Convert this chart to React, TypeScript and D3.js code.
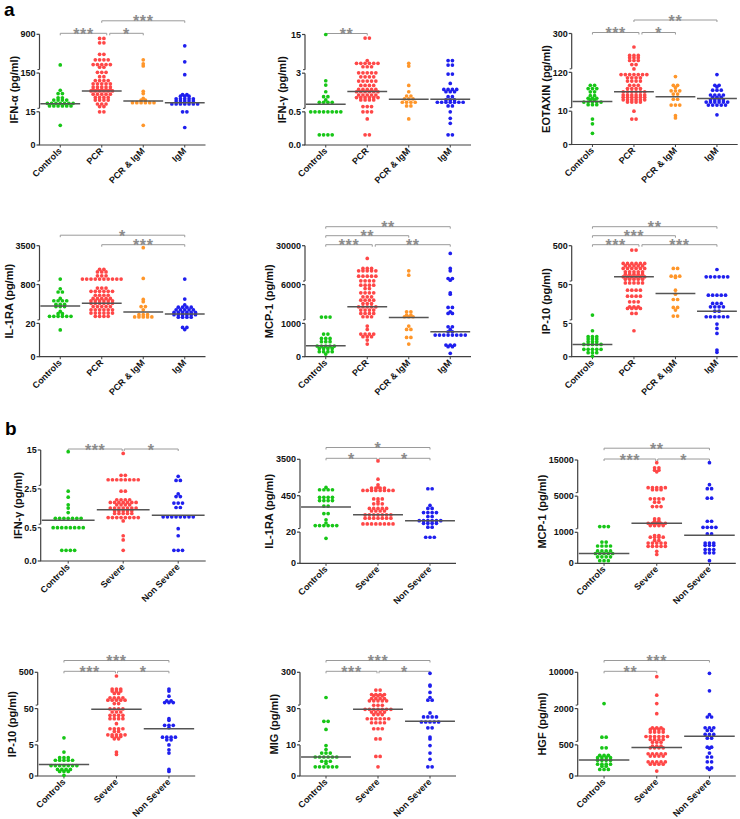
import React from "react";
import * as d3 from "d3";

const FONT = "'Liberation Sans', Arial, Helvetica, sans-serif";

const groupsA = ["Controls", "PCR", "PCR & IgM", "IgM"];
const groupsB = ["Controls", "Severe", "Non Severe"];
const colorsA = ["#17c617", "#ff4747", "#ff962a", "#1f1fee"];
const colorsB = ["#17c617", "#ff4747", "#1f1fee"];

// ---------- a1 IFN-alpha ----------
const ifnaTicks = [0, 15, 150, 900];
const ifnaTickLabels = ["0", "15", "150", "900"];
const ifnaControls = [308, 90, 78.5, 78.5, 63.8, 63.8, 55.8, 55.8, 55.8, 55.8, 44.5, 44.5, 44.5, 44.5, 44.5, 44.5, 44.5, 35.4, 35.4, 35.4, 35.4, 35.4, 35.4, 8.9];
const ifnaPCR = [821, 821, 735.5, 735.5, 511.8, 511.8, 406.6, 406.6, 406.6, 406.6, 314.5, 314.5, 314.5, 314.5, 314.5, 261.8, 261.8, 163, 163, 163, 137.5, 137.5, 123.9, 123.9, 123.9, 123.9, 112.6, 112.6, 112.6, 112.6, 112.6, 101.2, 101.2, 101.2, 101.2, 101.2, 92.1, 92.1, 92.1, 92.1, 92.1, 87.6, 87.6, 87.6, 87.6, 87.6, 87.6, 76.3, 76.3, 76.3, 76.3, 76.3, 64.9, 64.9, 64.9, 64.9, 55.8, 55.8, 55.8, 55.8, 42.2, 42.2, 42.2, 33.2, 33.2, 15, 15];
const ifnaPcrIgm = [406.6, 327.6, 288, 86.5, 78.5, 61.5, 55.8, 55.8, 46.8, 46.8, 46.8, 46.8, 46.8, 46.8, 8.9];
const ifnaIgm = [676, 367, 144.3, 75.1, 75.1, 69.5, 69.5, 69.5, 60.4, 60.4, 60.4, 60.4, 60.4, 52.4, 52.4, 52.4, 52.4, 52.4, 42.2, 42.2, 42.2, 42.2, 42.2, 42.2, 42.2, 15, 15, 7.9];
const ifnaMedians = [43.4, 87.6, 52.4, 46.8];

// ---------- a2 IFN-gamma ----------
const ifngATicks = [0, 0.5, 3, 15];
const ifngATickLabels = ["0.0", "0.5", "3", "15"];
const ifngAControls = [15, 2.51, 2.23, 1.8, 1.48, 1.48, 1.27, 1.12, 1.12, 1.12, 1.12, 0.5, 0.5, 0.5, 0.5, 0.5, 0.5, 0.5, 0.5, 0.153, 0.153, 0.153, 0.153];
const ifngAPCR = [13.9, 13.9, 6.9, 6.05, 6.05, 6.05, 6.05, 6.05, 6.05, 5.0, 5.0, 5.0, 3.1, 3.1, 3.1, 3.1, 3.1, 2.765, 2.765, 2.765, 2.765, 2.49, 2.49, 2.49, 2.49, 2.49, 2.21, 2.21, 2.21, 2.21, 1.95, 1.95, 1.95, 1.95, 1.95, 1.8, 1.8, 1.8, 1.8, 1.8, 1.8, 1.59, 1.59, 1.59, 1.59, 1.59, 1.42, 1.42, 1.42, 1.42, 1.42, 1.42, 1.27, 1.27, 1.27, 1.27, 0.84, 0.84, 0.84, 0.5, 0.5, 0.5, 0.393, 0.153, 0.153];
const ifngAPcrIgm = [6.05, 5.21, 2.21, 1.8, 1.526, 1.526, 1.333, 1.333, 1.333, 1.12, 1.12, 1.12, 1.12, 0.885, 0.885, 0.393];
const ifngAIgm = [6.9, 6.9, 5.5, 5.5, 2.94, 2.94, 2.34, 1.95, 1.95, 1.95, 1.95, 1.8, 1.8, 1.8, 1.48, 1.48, 1.27, 1.27, 1.27, 1.12, 1.12, 1.12, 1.12, 1.12, 1.12, 1.12, 0.885, 0.885, 0.5, 0.403, 0.327, 0.153, 0.153];
const ifngAMedians = [0.99, 1.82, 1.31, 1.31];

// ---------- a3 EOTAXIN ----------
const eotTicks = [0, 10, 120, 300];
const eotTickLabels = ["0", "10", "120", "300"];
const eotControls = [83.3, 83.3, 74.2, 74.2, 74.2, 65, 65, 54, 54, 46.7, 46.7, 46.7, 42.1, 42.1, 35.7, 35.7, 35.7, 35.7, 35.7, 28.3, 28.3, 28.3, 7.65, 6.22, 3.37];
const eotPCR = [237.4, 198.3, 198.3, 198.3, 187.3, 187.3, 187.3, 174.8, 174.8, 174.8, 156, 156, 135.7, 113.6, 113.6, 113.6, 113.6, 113.6, 113.6, 113.6, 104.4, 104.4, 104.4, 104.4, 95.3, 95.3, 95.3, 95.3, 83.3, 83.3, 83.3, 74.2, 74.2, 74.2, 74.2, 65, 65, 65, 65, 65, 65, 55.8, 55.8, 55.8, 55.8, 55.8, 55.8, 49.4, 49.4, 49.4, 49.4, 49.4, 49.4, 42.1, 42.1, 42.1, 42.1, 42.1, 42.1, 35.7, 35.7, 35.7, 35.7, 10, 7.65, 7.65];
const eotPcrIgm = [108, 83.3, 83.3, 76.9, 67.75, 67.75, 67.75, 58.6, 58.6, 43.9, 43.9, 27.4, 27.4, 27.4, 8.67, 7.96];
const eotIgm = [113.6, 83.3, 83.3, 78.75, 69.6, 69.6, 69.6, 55.8, 55.8, 55.8, 55.8, 49.4, 49.4, 49.4, 42.1, 42.1, 42.1, 42.1, 35.7, 35.7, 35.7, 35.7, 35.7, 35.7, 27.4, 27.4, 27.4, 27.4, 27.4, 8.9];
const eotMedians = [37.5, 65, 51.25, 45.75];

// ---------- a4 IL-1RA ----------
const il1raATicks = [0, 20, 800, 3500];
const il1raATickLabels = ["0", "20", "800", "3500"];
const il1raAControls = [1182.5, 715.5, 650.5, 650.5, 520.5, 475, 475, 475, 475, 403.5, 403.5, 403.5, 358, 358, 358, 260.5, 215, 215, 163, 163, 163, 163, 163, 163, 16.1];
const il1raAPCR = [1857.5, 1857.5, 1677.5, 1677.5, 1677.5, 1407.5, 1407.5, 1407.5, 1182.5, 1182.5, 1182.5, 1182.5, 1182.5, 1182.5, 1182.5, 1182.5, 1182.5, 1182.5, 728.5, 728.5, 728.5, 663.5, 663.5, 663.5, 663.5, 663.5, 663.5, 585.5, 585.5, 585.5, 585.5, 520.5, 520.5, 520.5, 520.5, 520.5, 475, 475, 475, 475, 475, 475, 423, 423, 423, 423, 423, 423, 358, 358, 358, 358, 358, 293, 293, 293, 293, 293, 293, 228, 228, 228, 228, 228, 228, 163, 163, 163, 163];
const il1raAPcrIgm = [3365, 1227.5, 501, 455.5, 358, 358, 293, 195.5, 195.5, 195.5, 150, 150, 150, 150, 150];
const il1raAIgm = [1182.5, 507.5, 390.5, 345, 345, 345, 345, 293, 293, 293, 293, 293, 241, 241, 241, 241, 241, 241, 195.5, 195.5, 195.5, 195.5, 195.5, 195.5, 143.5, 143.5, 143.5, 143.5, 17.6, 17.6, 16.3];
const il1raAMedians = [371, 423, 247.5, 208.5];

// ---------- a5 MCP-1 ----------
const mcpATicks = [0, 1000, 6000, 30000];
const mcpATickLabels = ["0", "1000", "6000", "30000"];
const mcpAControls = [1812, 1812, 1812, 680, 680, 550, 550, 550, 450, 450, 450, 320, 320, 320, 320, 320, 250, 250, 250, 250, 150, 150, 150, 150, 80];
const mcpAPCR = [22138, 15931, 15931, 15931, 14483, 14483, 14483, 14483, 14483, 11172, 11172, 11172, 11172, 11172, 8276, 8276, 8276, 8276, 5915, 5915, 5915, 5915, 5487, 5487, 4932, 4932, 4932, 4932, 4419, 4419, 4419, 3991, 3991, 3991, 3991, 3564, 3564, 3564, 3137, 3137, 3137, 3137, 3137, 2709, 2709, 2709, 2709, 2282, 2282, 2282, 2282, 1855, 1855, 1855, 920, 820, 680, 680, 680, 680, 600, 600, 600, 500, 380];
const mcpAPcrIgm = [14483, 11793, 2496, 2496, 2068, 2068, 1855, 1855, 1855, 920, 820, 820, 580, 580, 380];
const mcpAIgm = [25242, 15931, 14483, 9724, 9724, 8690, 4932, 4761, 3051, 3051, 2496, 2282, 2282, 900, 900, 820, 750, 750, 650, 650, 650, 650, 650, 650, 650, 650, 350, 350, 350, 300, 300, 100];
const mcpAMedians = [330, 3137, 1769, 750];

// ---------- a6 IP-10 ----------
const ipATicks = [0, 5, 50, 500];
const ipATickLabels = ["0", "5", "50", "500"];
const ipAControls = [14.6, 3.9, 3.0, 3.0, 3.0, 2.65, 2.65, 2.65, 2.25, 2.25, 2.25, 1.85, 1.85, 1.85, 1.85, 1.85, 1.1, 1.1, 1.1, 1.1, 1.1, 0.6, 0.6, 0.6, 0.1];
const ipAPCR = [449.5, 449.5, 294.4, 294.4, 294.4, 294.4, 294.4, 294.4, 267.2, 267.2, 267.2, 267.2, 267.2, 236.2, 236.2, 236.2, 236.2, 236.2, 236.2, 197.4, 197.4, 197.4, 197.4, 197.4, 170, 170, 170, 170, 170, 139.2, 139.2, 139.2, 139.2, 139.2, 139.2, 112, 112, 112, 112, 112, 69.4, 69.4, 69.4, 69.4, 69.4, 43.5, 43.5, 43.5, 43.5, 36.5, 36.5, 36.5, 36.5, 30, 30, 30, 24.2, 24.2, 24.2, 22.3, 22.3, 22.3, 22.3, 16.5, 16.5, 3.9];
const ipAPcrIgm = [236.2, 236.2, 147, 147, 147, 131.5, 43.5, 38.8, 32.7, 32.7, 23.5, 23.5, 20.4, 13.5, 13.5];
const ipAIgm = [224.6, 139.2, 139.2, 139.2, 139.2, 139.2, 139.2, 37.7, 37.7, 37.7, 37.7, 37.7, 28.1, 28.1, 28.1, 24.2, 24.2, 24.2, 24.2, 19.2, 19.2, 12.7, 12.7, 12.7, 12.7, 12.7, 12.7, 4.9, 4.25, 3.5, 1.0, 0.65];
const ipAMedians = [1.85, 139.2, 39.6, 19.2];

// ---------- b1 IFN-gamma ----------
const ifngBTicks = [0, 0.5, 2.5, 15];
const ifngBTickLabels = ["0.0", "0.5", "2.5", "15"];
const ifngBControls = [14.46, 2.38, 2.07, 1.68, 1.51, 1.28, 0.987, 0.987, 0.987, 0.987, 0.987, 0.987, 0.987, 0.5, 0.5, 0.5, 0.5, 0.5, 0.5, 0.5, 0.5, 0.16, 0.16, 0.16, 0.16];
const ifngBSevere = [13.9, 6.85, 6.85, 5.43, 5.43, 5.43, 5.43, 5.43, 5.43, 5.43, 5.43, 2.38, 2.38, 1.94, 1.94, 1.94, 1.94, 1.8, 1.8, 1.8, 1.8, 1.8, 1.8, 1.8, 1.68, 1.68, 1.68, 1.68, 1.51, 1.51, 1.51, 1.51, 1.51, 1.51, 1.51, 1.37, 1.37, 1.37, 1.37, 1.37, 1.23, 1.23, 1.23, 1.23, 1.23, 1.02, 1.02, 1.02, 1.02, 1.02, 1.02, 1.02, 1.02, 0.848, 0.379, 0.316, 0.16];
const ifngBNonSevere = [6.52, 5.2, 5.2, 2.24, 2.1, 2.1, 1.77, 1.77, 1.77, 1.54, 1.54, 1.06, 1.06, 1.06, 1.06, 1.06, 1.06, 1.06, 1.06, 0.485, 0.379, 0.16, 0.16, 0.16];
const ifngBMedians = [0.883, 1.42, 1.14];

// ---------- b2 IL-1RA ----------
const il1raBTicks = [0, 20, 450, 3500];
const il1raBTickLabels = ["0", "20", "450", "3500"];
const il1raBControls = [1143, 949, 949, 949, 949, 430.8, 430.8, 430.8, 430.8, 392.4, 392.4, 392.4, 392.4, 327, 327, 238.8, 238.8, 165.9, 127.5, 96.8, 96.8, 96.8, 96.8, 96.8, 96.8, 16];
const il1raBSevere = [3361, 1836, 1365, 1171, 1088, 1088, 1088, 1088, 893.6, 893.6, 893.6, 893.6, 893.6, 893.6, 893.6, 893.6, 411.6, 411.6, 411.6, 380.9, 354, 354, 354, 300, 300, 300, 300, 300, 269.5, 269.5, 269.5, 269.5, 223.5, 223.5, 223.5, 223.5, 223.5, 223.5, 223.5, 185, 185, 185, 185, 185, 185, 185, 116, 116, 116, 116, 116, 116, 116, 116];
const il1raBNonSevere = [1032, 1032, 334.8, 300.2, 300.2, 250.3, 250.3, 250.3, 250.3, 204.3, 204.3, 154.4, 154.4, 154.4, 154.4, 154.4, 154.4, 123.7, 123.7, 123.7, 123.7, 77.6, 77.6, 16.7, 16.7, 16.7];
const il1raBMedians = [315.6, 223.5, 154.4];

// ---------- b3 MCP-1 ----------
const mcpBTicks = [0, 1000, 5000, 15000];
const mcpBTickLabels = ["0", "1000", "5000", "15000"];
const mcpBControls = [1630, 1630, 1630, 684, 684, 558, 558, 558, 558, 400, 400, 400, 400, 316, 316, 316, 316, 316, 210.5, 210.5, 210.5, 210.5, 84, 84, 84];
const mcpBSevere = [14252, 12850, 12850, 12196, 12196, 11729, 7336, 7336, 7336, 7336, 7336, 6776, 6776, 6776, 4704, 4704, 4704, 4704, 4333, 4333, 3852, 3852, 3852, 2481, 2481, 2222, 2222, 2000, 2000, 2000, 2000, 2000, 1741, 1741, 1741, 1741, 895, 895, 842, 842, 842, 842, 737, 737, 653, 653, 653, 653, 653, 547, 547, 547, 547, 547, 389, 284];
const mcpBNonSevere = [14252, 8178, 7056, 7056, 4778, 4778, 2222, 2222, 1556, 1556, 1556, 1556, 947, 947, 653, 653, 653, 579, 579, 579, 442, 442, 442, 337, 337, 337, 84];
const mcpBMedians = [316, 2000, 905];

// ---------- b4 IP-10 ----------
const ipBTicks = [0, 5, 50, 500];
const ipBTickLabels = ["0", "5", "50", "500"];
const ipBControls = [13.75, 3.84, 2.95, 2.95, 2.95, 2.53, 2.53, 2.53, 2.53, 2.53, 1.68, 1.68, 1.68, 1.68, 1.68, 1.68, 1.68, 1.05, 1.05, 1.05, 1.05, 0.74, 0.74, 0.74, 0.105];
const ipBSevere = [454, 291.7, 291.7, 291.7, 266.7, 266.7, 266.7, 237.5, 237.5, 183, 183, 183, 183, 154, 154, 154, 154, 154, 112.5, 112.5, 49.58, 49.58, 49.58, 49.58, 45.8, 45.8, 45.8, 41.7, 41.7, 41.7, 41.7, 37.5, 37.5, 37.5, 37.5, 31.25, 25, 25, 25, 25, 21.7, 21.7, 17.5, 17.5, 17.5, 17.5, 17.5, 15.4, 15.4, 15.4, 12.5, 12.5, 3.84, 3.47];
const ipBNonSevere = [291.7, 266.7, 204, 145.8, 145.8, 125, 125, 125, 37.5, 35.4, 29.2, 29.2, 29.2, 26.25, 14.6, 14.6, 14.6, 14.6, 11.25, 11.25, 5, 4.21, 3.68, 1.05, 0.74];
const ipBMedians = [1.84, 49.2, 25];

// ---------- b5 MIG ----------
const migTicks = [0, 10, 30, 300];
const migTickLabels = ["0", "10", "30", "300"];
const migControls = [112.5, 22.96, 22.96, 18.5, 9.79, 8.5, 7.37, 7.37, 7.37, 6.1, 6.1, 6.1, 6.1, 6.1, 6.1, 4.74, 4.74, 4.74, 4, 2.95, 2.95, 2.95, 2.95, 2.95, 2.95];
const migSevere = [167.5, 167.5, 135, 135, 135, 135, 125, 125, 125, 105, 105, 105, 105, 87.5, 87.5, 87.5, 87.5, 87.5, 55, 55, 55, 29.6, 29.6, 29.6, 29.6, 29.6, 29.6, 29.6, 28.1, 28.1, 28.1, 28.1, 26.7, 26.7, 26.7, 24.4, 24.4, 24.4, 24.4, 24.4, 24.4, 22.2, 22.2, 22.2, 22.2, 18.9, 18.9, 18.9, 13.3, 13.3, 6.3, 6.3, 2.95];
const migNonSevere = [292.5, 205, 197.5, 150, 112.5, 92.5, 92.5, 27.6, 25.4, 25.4, 25.4, 25.4, 22.6, 22.6, 22.6, 22.6, 22.6, 19.4, 19.4, 14.3, 13.3, 9.79, 7.37, 5.37, 2.95, 2.95];
const migMedians = [6.1, 29.6, 22.96];

// ---------- b6 HGF ----------
const hgfTicks = [0, 500, 2000, 10000];
const hgfTickLabels = ["0", "500", "2000", "10000"];
const hgfControls = [3111, 819, 819, 452.6, 452.6, 331.6, 331.6, 331.6, 294.7, 294.7, 294.7, 294.7, 252.6, 252.6, 252.6, 252.6, 189.5, 189.5, 189.5, 189.5, 157.9, 157.9, 105.3, 105.3, 105.3];
const hgfSevere = [9037, 4963, 3111, 1792, 1208, 1208, 1208, 1139, 1139, 1139, 1139, 1028, 1028, 1028, 1028, 847, 847, 847, 847, 847, 847, 722, 722, 722, 722, 611, 611, 611, 479, 479, 479, 452.6, 452.6, 452.6, 452.6, 357.9, 357.9, 357.9, 357.9, 357.9, 321, 321, 321, 321, 226, 226, 226, 226, 226, 189.5, 189.5, 189.5, 189.5, 79];
const hgfNonSevere = [9778, 5926, 1750, 1653, 1653, 1208, 1208, 1208, 1097, 1097, 930.6, 930.6, 930.6, 777.8, 777.8, 463, 463, 447, 368.4, 305, 305, 226, 226, 131.6, 131.6, 105.3];
const hgfMedians = [258, 457.9, 861];

type Bracket = [number, number, string, number];

const panels = [
  { title: "IFN-\u03b1 (pg/ml)", ticks: ifnaTicks, tickLabels: ifnaTickLabels, groups: groupsA, colors: colorsA, values: [ifnaControls, ifnaPCR, ifnaPcrIgm, ifnaIgm], medians: ifnaMedians, brackets: [[0, 1, "***", 0], [1, 2, "*", 0], [1, 3, "***", 1]] as Bracket[] },
  { title: "IFN-\u03b3 (pg/ml)", ticks: ifngATicks, tickLabels: ifngATickLabels, groups: groupsA, colors: colorsA, values: [ifngAControls, ifngAPCR, ifngAPcrIgm, ifngAIgm], medians: ifngAMedians, brackets: [[0, 1, "**", 0]] as Bracket[] },
  { title: "EOTAXIN (pg/ml)", ticks: eotTicks, tickLabels: eotTickLabels, groups: groupsA, colors: colorsA, values: [eotControls, eotPCR, eotPcrIgm, eotIgm], medians: eotMedians, brackets: [[0, 1, "***", 0], [1, 2, "*", 0], [1, 3, "**", 1]] as Bracket[] },
  { title: "IL-1RA (pg/ml)", ticks: il1raATicks, tickLabels: il1raATickLabels, groups: groupsA, colors: colorsA, values: [il1raAControls, il1raAPCR, il1raAPcrIgm, il1raAIgm], medians: il1raAMedians, brackets: [[1, 3, "***", 0], [0, 3, "*", 1]] as Bracket[] },
  { title: "MCP-1 (pg/ml)", ticks: mcpATicks, tickLabels: mcpATickLabels, groups: groupsA, colors: colorsA, values: [mcpAControls, mcpAPCR, mcpAPcrIgm, mcpAIgm], medians: mcpAMedians, brackets: [[0, 1, "***", 0], [1, 3, "**", 0], [0, 2, "**", 1], [0, 3, "**", 2]] as Bracket[] },
  { title: "IP-10 (pg/ml)", ticks: ipATicks, tickLabels: ipATickLabels, groups: groupsA, colors: colorsA, values: [ipAControls, ipAPCR, ipAPcrIgm, ipAIgm], medians: ipAMedians, brackets: [[0, 1, "***", 0], [1, 3, "***", 0], [0, 2, "***", 1], [0, 3, "**", 2]] as Bracket[] },
  { title: "IFN-\u03b3 (pg/ml)", ticks: ifngBTicks, tickLabels: ifngBTickLabels, groups: groupsB, colors: colorsB, values: [ifngBControls, ifngBSevere, ifngBNonSevere], medians: ifngBMedians, brackets: [[0, 1, "***", 0], [1, 2, "*", 0]] as Bracket[] },
  { title: "IL-1RA (pg/ml)", ticks: il1raBTicks, tickLabels: il1raBTickLabels, groups: groupsB, colors: colorsB, values: [il1raBControls, il1raBSevere, il1raBNonSevere], medians: il1raBMedians, brackets: [[0, 1, "*", 0], [1, 2, "*", 0], [0, 2, "*", 1]] as Bracket[] },
  { title: "MCP-1 (pg/ml)", ticks: mcpBTicks, tickLabels: mcpBTickLabels, groups: groupsB, colors: colorsB, values: [mcpBControls, mcpBSevere, mcpBNonSevere], medians: mcpBMedians, brackets: [[0, 1, "***", 0], [1, 2, "*", 0], [0, 2, "**", 1]] as Bracket[] },
  { title: "IP-10 (pg/ml)", ticks: ipBTicks, tickLabels: ipBTickLabels, groups: groupsB, colors: colorsB, values: [ipBControls, ipBSevere, ipBNonSevere], medians: ipBMedians, brackets: [[0, 1, "***", 0], [1, 2, "*", 0], [0, 2, "***", 1]] as Bracket[] },
  { title: "MIG (pg/ml)", ticks: migTicks, tickLabels: migTickLabels, groups: groupsB, colors: colorsB, values: [migControls, migSevere, migNonSevere], medians: migMedians, brackets: [[0, 1, "***", 0], [1, 2, "*", 0], [0, 2, "***", 1]] as Bracket[] },
  { title: "HGF (pg/ml)", ticks: hgfTicks, tickLabels: hgfTickLabels, groups: groupsB, colors: colorsB, values: [hgfControls, hgfSevere, hgfNonSevere], medians: hgfMedians, brackets: [[0, 1, "**", 0], [0, 2, "***", 1]] as Bracket[] },
];

// layout (pixel geometry of each panel)
const layouts = [
  { x0: 39.5, top: 34.3, bottom: 145, step: 41.5, gap: 12.5, shL: 5, shR: 8 },
  { x0: 305, top: 34.5, bottom: 145, step: 41.5, gap: 12.5, shL: 5, shR: 8 },
  { x0: 571.7, top: 33.5, bottom: 144.5, step: 41.5, gap: 12.5, shL: 5, shR: 8 },
  { x0: 39.5, top: 245.7, bottom: 356.7, step: 41.5, gap: 9.5, shL: 5, shR: 8 },
  { x0: 305, top: 245.7, bottom: 356.7, step: 41.5, gap: 9, shL: 5, shR: 8 },
  { x0: 571.7, top: 245.7, bottom: 356.7, step: 41.5, gap: 9, shL: 5, shR: 8 },
  { x0: 40.7, top: 450, bottom: 561, step: 55, gap: 10.8, shL: -1, shR: 1 },
  { x0: 300, top: 459.3, bottom: 563.3, step: 52, gap: 10.8, shL: -1, shR: 1 },
  { x0: 577.7, top: 460, bottom: 563.3, step: 52.7, gap: 10.8, shL: -1, shR: 1 },
  { x0: 37.7, top: 672.3, bottom: 776, step: 52.5, gap: 10.8, shL: -1, shR: 1 },
  { x0: 300, top: 672.3, bottom: 776, step: 52, gap: 10.8, shL: -1, shR: 1 },
  { x0: 577.7, top: 672.3, bottom: 776, step: 52.7, gap: 10.8, shL: -1, shR: 1 },
];

const AXIS = "#404040";
const SIG = "#9a9a9a";
const STAR = "#8c8c8c";
const MED = "#555555";
const DOT_R = 1.85;
const DOT_SP = 4.3;

function labelWidth(s: string) {
  let w = 0;
  for (const c of s) w += c === "." ? 2.5 : 5.0;
  return w;
}

function Panel({ p, l }: { p: (typeof panels)[number]; l: (typeof layouts)[number] }) {
  const h = l.bottom - l.top;
  const n = p.groups.length;
  const y = d3
    .scaleLinear()
    .domain(p.ticks)
    .range([l.bottom, l.bottom - 0.3 * h, l.bottom - 0.65 * h, l.top]);
  const x = d3
    .scalePoint<string>()
    .domain(p.groups)
    .range([l.x0 + l.step / 2, l.x0 + l.step * (n - 0.5)]);
  const xEnd = l.x0 + l.step * n;
  const brk = 3.5;

  const dots: { cx: number; cy: number; c: string }[] = [];
  p.values.forEach((vals, gi) => {
    const xc = x(p.groups[gi]) as number;
    const byVal = d3.group(vals, (v) => v);
    byVal.forEach((arr, v) => {
      arr.forEach((_, k) => {
        dots.push({ cx: xc + (k - (arr.length - 1) / 2) * DOT_SP, cy: y(v), c: p.colors[gi] });
      });
    });
  });

  const maxW = Math.max(...p.tickLabels.map(labelWidth));
  const titleX = l.x0 - maxW - 10.5;
  const midY = (l.top + l.bottom) / 2;

  const brs = p.brackets.map(([a, b, s, lev]) => {
    const leftShared = p.brackets.some((o) => o[1] === a && o[3] === lev);
    const rightShared = p.brackets.some((o) => o[0] === b && o[3] === lev);
    const x1 = (x(p.groups[a]) as number) + (leftShared ? l.shR : 0);
    const x2 = (x(p.groups[b]) as number) + (rightShared ? l.shL : 0);
    const yy = l.top - 1 - lev * l.gap;
    return { x1, x2, yy, s };
  });

  return (
    <g>
      {brs.map((b, i) => (
        <g key={"b" + i}>
          <path d={`M${b.x1},${b.yy + 2}V${b.yy}H${b.x2}V${b.yy + 2}`} fill="none" stroke={SIG} strokeWidth={1} />
          <text x={(b.x1 + b.x2) / 2} y={b.yy + 6.5} textAnchor="middle" fontSize={16} fontWeight="bold" fill={STAR} fontFamily={FONT} letterSpacing={0.6}>
            {b.s}
          </text>
        </g>
      ))}
      {[0, 1, 2].map((k) => (
        <line key={"s" + k} x1={l.x0} x2={l.x0} y1={y(p.ticks[k]) - (k > 0 ? brk : 0)} y2={y(p.ticks[k + 1])} stroke={AXIS} strokeWidth={1.2} />
      ))}
      {p.ticks.map((t, k) => (
        <g key={"t" + k}>
          <line x1={l.x0 - 3} x2={l.x0} y1={y(t)} y2={y(t)} stroke={AXIS} strokeWidth={1.2} />
          {k > 0 && k < 3 && <line x1={l.x0 - 2} x2={l.x0} y1={y(t) - brk} y2={y(t) - brk} stroke={AXIS} strokeWidth={1} />}
          <text x={l.x0 - 4} y={y(t)} dy="0.35em" textAnchor="end" fontSize={9} fontWeight="bold" fontFamily={FONT} fill="#111">
            {p.tickLabels[k]}
          </text>
        </g>
      ))}
      <line x1={l.x0 - 0.6} x2={xEnd} y1={l.bottom} y2={l.bottom} stroke={AXIS} strokeWidth={1.2} />
      {p.groups.map((g) => (
        <g key={g}>
          <line x1={x(g)} x2={x(g)} y1={l.bottom} y2={l.bottom + 2.5} stroke={AXIS} strokeWidth={1} />
          <text transform={`translate(${(x(g) as number) + 2},${l.bottom + 6.5}) rotate(-45)`} textAnchor="end" fontSize={9} fontWeight="bold" fontFamily={FONT} fill="#111">
            {g}
          </text>
        </g>
      ))}
      <text transform={`translate(${titleX},${midY}) rotate(-90)`} dy="0.35em" textAnchor="middle" fontSize={11} fontWeight="bold" fontFamily={FONT} fill="#111">
        {p.title}
      </text>
      {dots.map((d, i) => (
        <circle key={i} cx={d.cx} cy={d.cy} r={DOT_R} fill={d.c} />
      ))}
      {p.medians.map((m, gi) => {
        const xc = x(p.groups[gi]) as number;
        return <line key={"m" + gi} x1={xc - l.step * 0.48} x2={xc + l.step * 0.48} y1={y(m)} y2={y(m)} stroke={MED} strokeWidth={1.5} />;
      })}
    </g>
  );
}

export default function App() {
  return (
    <svg width={740} height={819} style={{ position: "absolute", left: 0, top: 0, background: "#fff" }}>
      <rect width={740} height={819} fill="#fff" />
      <text x={4} y={16} fontSize={19} fontWeight="bold" fontFamily={FONT} fill="#000">a</text>
      <text x={5} y={435} fontSize={19} fontWeight="bold" fontFamily={FONT} fill="#000">b</text>
      {panels.map((p, i) => (
        <Panel key={i} p={p} l={layouts[i]} />
      ))}
    </svg>
  );
}
